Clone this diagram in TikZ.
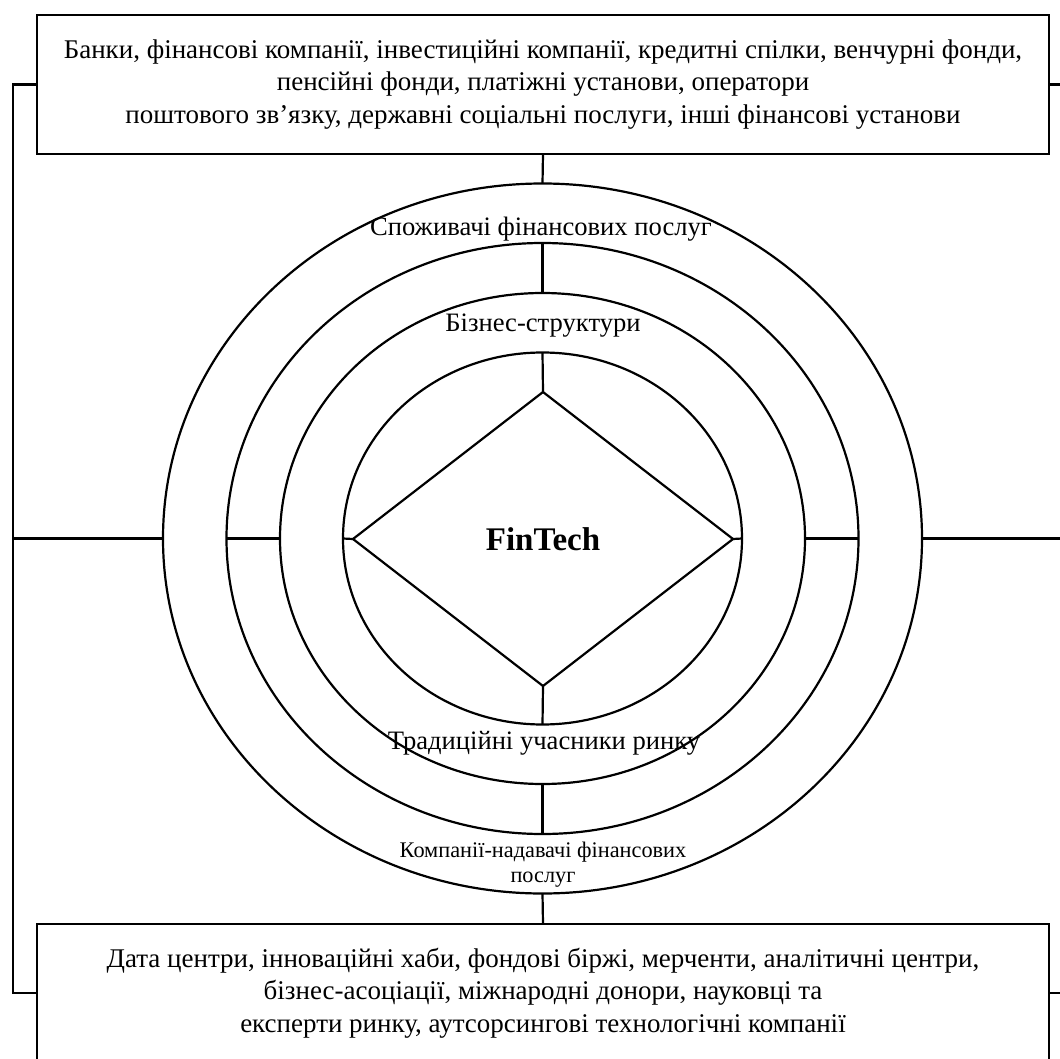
\documentclass[tikz,border=0pt]{standalone}
\usepackage{fontspec}
\setmainfont{Liberation Serif}
\usetikzlibrary{shapes.geometric}
\begin{document}
\begin{tikzpicture}[x=1pt,y=-1pt,
  ln/.style={line width=2.2pt},
  bx/.style={draw, line width=2.5pt, rectangle, inner sep=0pt, outer sep=0pt, align=center, font=\fontsize{27}{32.5}\selectfont},
  ring/.style={draw, ellipse, line width=2.2pt, inner sep=0pt, outer sep=0pt},
  lbl/.style={inner sep=0pt, align=center, font=\fontsize{26.6}{30}\selectfont},
  slbl/.style={inner sep=0pt, align=center, font=\fontsize{22.3}{25}\selectfont},
  ]
\useasboundingbox (0,0) rectangle (1060,1059);
\clip (0,0) rectangle (1060,1059);
\coordinate (L) at (13,0);
\coordinate (R) at (1072,0);

\node[bx, minimum width=1012pt, minimum height=139pt] (top) at (543,84.5)
  {Банки, фінансові компанії, інвестиційні компанії, кредитні спілки, венчурні фонди,\\
   пенсійні фонди, платіжні установи, оператори\\
   поштового зв’язку, державні соціальні послуги, інші фінансові установи};
\node[bx, minimum width=1012pt, minimum height=138pt] (bot) at (543,993)
  {Дата центри, інноваційні хаби, фондові біржі, мерченти, аналітичні центри,\\
   бізнес-асоціації, міжнародні донори, науковці та\\
   експерти ринку, аутсорсингові технологічні компанії};

\node[ring, minimum width=759pt, minimum height=710pt] (e1) at (542.5,538.5) {};
\node[ring, minimum width=632pt, minimum height=591pt] (e2) at (542.5,538.5) {};
\node[ring, minimum width=525pt, minimum height=491pt] (e3) at (542.5,538.5) {};
\node[ring, minimum width=399pt, minimum height=372pt] (e4) at (542.5,538.5) {};
\node[draw, diamond, ln, minimum width=380pt, minimum height=294pt, inner sep=0pt, outer sep=0pt,
  font=\bfseries\fontsize{33}{36}\selectfont] (fin) at (543,539) {FinTech};

\node[lbl] (l1) at (541,229) {Споживачі фінансових послуг};
\node[lbl] (l2) at (543,326) {Бізнес-структури};
\node[lbl] (l3) at (544,743) {Традиційні учасники ринку};
\node[slbl] (l4) at (543,865) {Компанії-надавачі фінансових\\послуг};

\draw[ln] (top.south) -- (e1.north);
\draw[ln] (e2.north) -- (e3.north);
\draw[ln] (e4.north) -- (fin.north);
\draw[ln] (fin.south) -- (e4.south);
\draw[ln] (e3.south) -- (e2.south);
\draw[ln] (e1.south) -- (bot.north);
\draw[ln] (e2.west) -- (e3.west);
\draw[ln] (e4.west) -- (fin.west);
\draw[ln] (fin.east) -- (e4.east);
\draw[ln] (e3.east) -- (e2.east);
\draw[ln] (top.west) -| (L |- bot.west) -- (bot.west);
\draw[ln] (e1.west) -- (e1.west -| L);
\draw[ln] (top.east) -| (R |- bot.east) -- (bot.east);
\draw[ln] (e1.east) -- (e1.east -| R);
\end{tikzpicture}
\end{document}
